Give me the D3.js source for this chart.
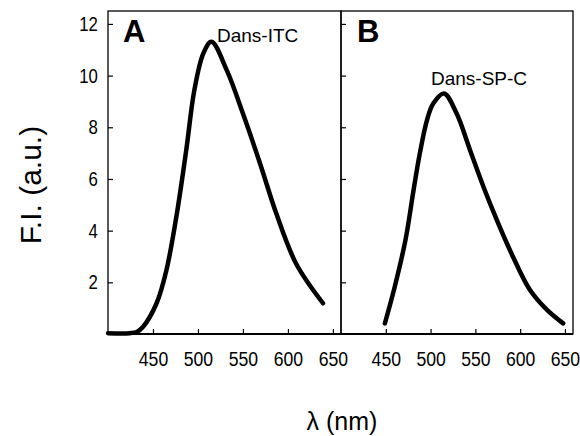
<!DOCTYPE html>
<html>
<head>
<meta charset="utf-8">
<script src="https://cdn.jsdelivr.net/npm/d3@7"></script>
<style>
  body { margin: 0; background: #fff; }
  svg text { fill: #000; }
  .tick text { font-family: "Liberation Sans Narrow", "Arial Narrow", "Liberation Sans", Arial, sans-serif; }
</style>
</head>
<body>
<svg id="svg" width="580" height="436"></svg>
<script>
// panel A: Dans-ITC
var wavelengthA = [400, 424, 432, 439, 454, 465, 476, 487, 496, 506, 515, 532, 550, 569, 587, 609, 639];
var intensityA  = [0.03, 0.03, 0.08, 0.28, 1.19, 2.48, 4.54, 7.12, 9.44, 10.86, 11.31, 10.21, 8.53, 6.6, 4.67, 2.73, 1.19];
// panel B: Dans-SP-C
var wavelengthB = [449, 460, 472, 481, 488, 496, 503, 515, 529, 544, 559, 574, 592, 611, 630, 648];
var intensityB  = [0.41, 1.83, 3.64, 5.57, 6.99, 8.28, 8.92, 9.31, 8.54, 7.12, 5.7, 4.41, 2.99, 1.7, 0.93, 0.41];

var xTicks = [450, 500, 550, 600, 650];
var yTicks = [2, 4, 6, 8, 10, 12];

var svg = d3.select("#svg");
var plotTop = 11, plotBottom = 334, plotLeft = 108, plotMid = 341, plotRight = 573;

var xA = d3.scaleLinear().domain([400, 659]).range([plotLeft, plotMid]);
var xB = d3.scaleLinear().domain([400, 659]).range([plotMid, plotRight]);
var y = d3.scaleLinear().domain([0, 12.5]).range([plotBottom, plotTop]);

function styleAxis(g, size) {
    g.select(".domain").remove();
    g.selectAll(".tick line").attr("stroke", "#000").attr("stroke-width", 1.2);
    g.selectAll(".tick text").style("font-size", size + "px").attr("fill", "#000")
        .attr("transform", "scale(0.84,1)");  // narrow look of the original labels
}

[xA, xB].forEach(function (x, i) {
    svg.append("g")
        .attr("transform", "translate(0," + plotBottom + ")")
        .call(d3.axisBottom(x).tickValues(xTicks).tickSizeInner(-5).tickSizeOuter(0).tickPadding(17))
        .call(styleAxis, 21);
    var ya = d3.axisLeft(y).tickValues(yTicks).tickSizeInner(-5).tickSizeOuter(0).tickPadding(12);
    if (i == 1) ya.tickFormat("");
    svg.append("g")
        .attr("transform", "translate(" + x.range()[0] + ",0)")
        .call(ya)
        .call(styleAxis, 20);
});

// panel frames
svg.append("rect").attr("x", plotLeft).attr("y", plotTop).attr("width", plotMid - plotLeft).attr("height", plotBottom - plotTop)
    .attr("fill", "none").attr("stroke", "#000").attr("stroke-width", 1.3);
svg.append("rect").attr("x", plotMid).attr("y", plotTop).attr("width", plotRight - plotMid).attr("height", plotBottom - plotTop)
    .attr("fill", "none").attr("stroke", "#000").attr("stroke-width", 1.3);
svg.append("line").attr("x1", plotLeft).attr("x2", plotRight).attr("y1", plotBottom).attr("y2", plotBottom)
    .attr("stroke", "#000").attr("stroke-width", 2);

function drawCurve(x, xs, ys) {
    var line = d3.line()
        .x(function (d) { return x(d[0]); })
        .y(function (d) { return y(d[1]); })
        .curve(d3.curveCatmullRom.alpha(0.5));
    svg.append("path")
        .datum(d3.zip(xs, ys))
        .attr("d", line)
        .attr("fill", "none")
        .attr("stroke", "#000")
        .attr("stroke-width", 4.5)
        .attr("stroke-linecap", "round")
        .attr("stroke-linejoin", "round");
}
drawCurve(xA, wavelengthA, intensityA);
drawCurve(xB, wavelengthB, intensityB);

var sans = "'Liberation Sans', Arial, sans-serif";
svg.append("text").attr("x", 123).attr("y", 41.5).text("A")
    .style("font", "bold 31px " + sans);
svg.append("text").attr("x", 357).attr("y", 41.5).text("B")
    .style("font", "bold 31px " + sans);
svg.append("text").attr("x", 217).attr("y", 41.5).text("Dans-ITC")
    .style("font", "19px " + sans);
svg.append("text").attr("x", 431).attr("y", 85).text("Dans-SP-C")
    .style("font", "19px " + sans);

svg.append("text")
    .attr("transform", "translate(41,185) rotate(-90)")
    .attr("text-anchor", "middle")
    .text("F.I. (a.u.)")
    .style("font", "30px " + sans);
svg.append("text")
    .attr("x", 342).attr("y", 430)
    .attr("text-anchor", "middle")
    .text("λ (nm)")
    .style("font", "25px " + sans);
</script>
</body>
</html>
